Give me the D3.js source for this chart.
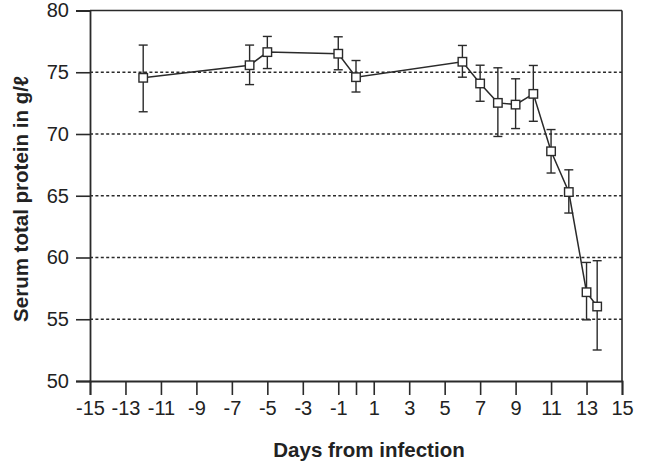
<!DOCTYPE html>
<html>
<head>
<meta charset="utf-8">
<script src="https://cdn.jsdelivr.net/npm/d3@7"></script>
<style>
  html, body { margin: 0; padding: 0; background: #fff; }
  svg { display: block; }
  text { font-family: "Liberation Sans", Arial, Helvetica, sans-serif; fill: #222; }
</style>
</head>
<body>
<svg id="chart" width="649" height="463"></svg>
<script>
// ---- data ----
const days  = [-12, -6, -5, -1, 0, 6, 7, 8, 9, 10, 11, 12, 13, 13.6];
const mean  = [74.55, 75.57, 76.63, 76.5, 74.6, 75.85, 74.09, 72.52, 72.38, 73.25, 68.6, 65.3, 57.19, 56.03];
const upper = [77.2, 77.2, 77.9, 77.87, 75.95, 77.17, 75.57, 75.36, 74.47, 75.55, 70.36, 67.1, 59.6, 59.74];
const lower = [71.8, 74.0, 75.3, 75.2, 73.4, 74.6, 72.65, 69.8, 70.44, 71.03, 66.84, 63.6, 54.95, 52.51];
const xTicks = [-15, -13, -11, -9, -7, -5, -3, -1, 0, 1, 3, 5, 7, 9, 11, 13, 15];
const xLabelled = [-15, -13, -11, -9, -7, -5, -3, -1, 1, 3, 5, 7, 9, 11, 13, 15];
const yTicks = [50, 55, 60, 65, 70, 75, 80];
const yGrid = [55, 60, 65, 70, 75];
const xTitle = "Days from infection";
const yTitle = "Serum total protein in g/ℓ";

const points = days.map((d, i) => ({ d, m: mean[i], hi: upper[i], lo: lower[i] }));

// ---- layout ----
const svg = d3.select("#chart");
const L = 90, R = 622, T = 10.5, B = 381;
const ink = "#2a2a2a";

const x = d3.scaleLinear().domain([-15, 15]).range([L, R]);
const y = d3.scaleLinear().domain([50, 80]).range([B, T]);

// grid lines (dotted)
svg.append("g").selectAll("line").data(yGrid).join("line")
  .attr("x1", L).attr("x2", R)
  .attr("y1", d => y(d)).attr("y2", d => y(d))
  .attr("stroke", ink).attr("stroke-width", 1.4)
  .attr("stroke-dasharray", "3,2.4");

// frame: top and right
svg.append("line").attr("x1", L).attr("x2", R).attr("y1", T).attr("y2", T)
  .attr("stroke", ink).attr("stroke-width", 1.6);
svg.append("line").attr("x1", R).attr("x2", R).attr("y1", T).attr("y2", B)
  .attr("stroke", ink).attr("stroke-width", 1.6);

// axes
const yAxis = d3.axisLeft(y).tickValues(yTicks).tickSize(14).tickPadding(6)
  .tickFormat(d3.format("d"));
const gy = svg.append("g").attr("transform", `translate(${L},0)`).call(yAxis);
gy.select(".domain").attr("stroke", ink).attr("stroke-width", 1.8);
gy.selectAll(".tick line").attr("stroke", ink).attr("stroke-width", 1.6);
gy.selectAll(".tick text").attr("font-size", 20).attr("fill", ink).attr("dx", -1);

const xAxis = d3.axisBottom(x).tickValues(xTicks).tickSize(14).tickPadding(6)
  .tickFormat(d => xLabelled.includes(d) ? d : "");
const gx = svg.append("g").attr("transform", `translate(0,${B})`).call(xAxis);
gx.select(".domain").attr("stroke", ink).attr("stroke-width", 1.8);
gx.selectAll(".tick line").attr("stroke", ink).attr("stroke-width", 1.6);
gx.selectAll(".tick text").attr("font-size", 20).attr("fill", ink)
  .text(d => xLabelled.includes(d) ? (d < 0 ? "-" + Math.abs(d) : String(d)) : "");

// titles
svg.append("text").attr("x", 369).attr("y", 457)
  .attr("text-anchor", "middle").attr("font-size", 20.5).attr("font-weight", "bold")
  .text(xTitle);
svg.append("text")
  .attr("transform", `translate(27.5,199) rotate(-90)`)
  .attr("text-anchor", "middle").attr("font-size", 20.5).attr("font-weight", "bold")
  .text(yTitle);

// error bars
const eb = svg.append("g").attr("stroke", ink).attr("stroke-width", 1.4).attr("fill", "none");
eb.selectAll("line.v").data(points).join("line").attr("class", "v")
  .attr("x1", p => x(p.d)).attr("x2", p => x(p.d))
  .attr("y1", p => y(p.hi)).attr("y2", p => y(p.lo));
eb.selectAll("line.t").data(points).join("line").attr("class", "t")
  .attr("x1", p => x(p.d) - 4.5).attr("x2", p => x(p.d) + 4.5)
  .attr("y1", p => y(p.hi)).attr("y2", p => y(p.hi));
eb.selectAll("line.b").data(points).join("line").attr("class", "b")
  .attr("x1", p => x(p.d) - 4.5).attr("x2", p => x(p.d) + 4.5)
  .attr("y1", p => y(p.lo)).attr("y2", p => y(p.lo));

// connecting line
svg.append("path").datum(points)
  .attr("d", d3.line().x(p => x(p.d)).y(p => y(p.m)))
  .attr("fill", "none").attr("stroke", ink).attr("stroke-width", 1.5);

// square markers
const s = 8.5;
svg.append("g").selectAll("rect").data(points).join("rect")
  .attr("x", p => x(p.d) - s / 2).attr("y", p => y(p.m) - s / 2)
  .attr("width", s).attr("height", s)
  .attr("fill", "#fff").attr("stroke", ink).attr("stroke-width", 1.4);
</script>
</body>
</html>
